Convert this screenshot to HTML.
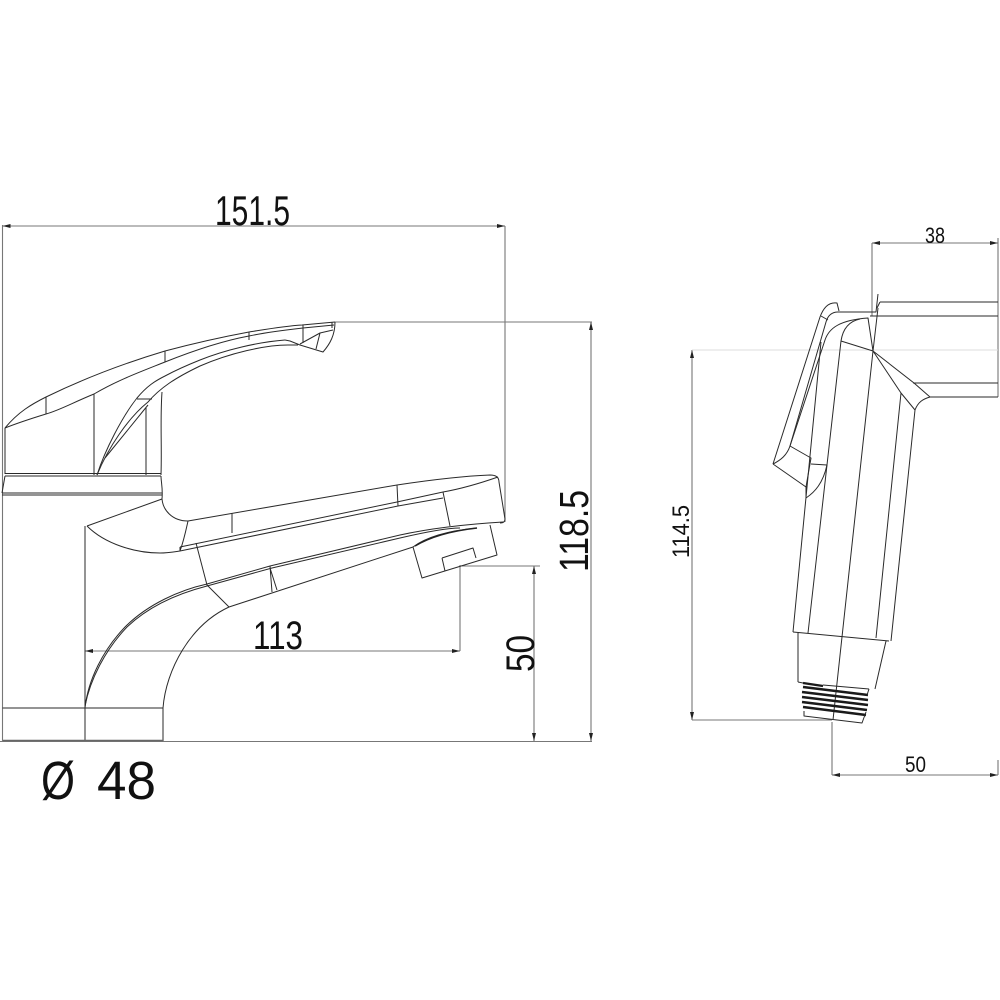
<!DOCTYPE html>
<html><head><meta charset="utf-8"><style>
html,body{margin:0;padding:0;background:#fff;width:1000px;height:1000px;overflow:hidden}
svg{display:block;filter:blur(0.3px)}
text{font-family:"Liberation Sans",sans-serif;fill:#111}
.o{fill:none;stroke:#2a2a2a;stroke-width:1;stroke-linejoin:round}
.d{fill:none;stroke:#777;stroke-width:1.1}
.t{fill:none;stroke:#222;stroke-width:1.6}
</style></head><body>
<svg width="1000" height="1000" viewBox="0 0 1000 1000" xmlns="http://www.w3.org/2000/svg">
<rect width="1000" height="1000" fill="#fff"/>
<!-- dimension lines left -->
<path class="d" d="M2.5 225V741M2 226H505M505 226V522M335 322H592M591 322V741M0 741.5H592M85 651H460M460 565V651M462 566H540M534 566V741"/>
<g fill="#222">
<path d="M2.5 226l8-2v4zM505 226l-8-2v4zM591 322l-2 8h4zM591 741l-2-8h4zM85 651l8-2v4zM460 651l-8-2v4zM534 566l-2 8h4zM534 741l-2-8h4z"/>
</g>
<!-- handle -->
<path class="o" d="M5 428C18 412 32 404 46 397C85 378 125 363 165 351C195 343 222 337 249 332C268 329 285 326 302 325L335 322"/>
<path class="o" d="M5 428C20 422 33 418 46 414C60 410 72 403 94 394C118 380 140 372 165 362C195 350 222 341 249 336C268 332 285 330 303 328L334 325"/>
<path class="o" d="M97 475C105 450 122 417 137 398C147 386 155 381 165 376C178 369 190 364 200 360C225 350 258 342 285 340"/>
<path class="o" d="M97 475C108 448 128 418 148 402C160 388 175 378 200 366C230 353 265 345 288 345L298 345"/>
<path class="o" d="M285 340L290 341L300 345L323 352C330 344 335 335 335 322"/>
<path class="o" d="M300 344L320 333L333 330M320 333L316 349M105 458L148 405M137 399H152"/>
<path class="o" d="M46 397V414M94 394V475M146 408V475M162 392C160 420 162 445 161 475M165 351V362M249 332V340M303 325V343M332 322V328"/>
<path class="o" d="M5 428V474M5 473.500H161M5 476H161M5 476L2 493M2 493H162M2 495H162M161 476C161 482 163 488 162 499"/>
<!-- spout -->
<path class="o" d="M87 526L162 499C163 510 172 521 188 521L397 485C430 480 465 476 490 475C497 475 499 478 499 482L505 519C505 522 503 523 500 523"/>
<path class="o" d="M87 526C105 544 135 553 160 553C167 553 173 552 180 551L398 506L443 498"/>
<path class="o" d="M180 547L397 502L443 492C460 489 478 484 498 477"/>
<path class="o" d="M188 521C186 530 184 540 180 551M180 547V551M232 513V533M397 485L398 506M443 492L450 526"/>
<path class="o" d="M196 543L207 585L229 607M270 566L272 592M270 568L277 590"/>
<path class="o" d="M85 708C88 680 103 650 125 627C148 604 180 590 207 584L270 566L400 535C432 528 470 524 503 522"/>
<path class="o" d="M85 706C90 680 105 650 127 627C150 605 180 593 207 586L272 568L400 538C430 531 450 528 460 528"/>
<path class="o" d="M163 708C166 670 190 625 229 607L413 547C425 538 445 531 477 528"/>
<path class="t" d="M415 546C430 537 450 531 477 528"/>
<path class="o" d="M413 547L422 578L497 555L490 525M442 558L473 548L476 558M442 558L445 571"/>
<path class="o" d="M85 526V741M163 708V741M2.500 708H163"/>
<path d="M3 740.500H163" fill="none" stroke="#666" stroke-width="1.6"/>
<!-- shower dimension -->
<path class="d" d="M872 243V316M872 243H998M998 238V397M692 350V720M692 720H832M832 722V775M832 775H998M998 760V775"/>
<path d="M692 350H998" fill="none" stroke="#ddd" stroke-width="1"/>
<g fill="#222">
<path d="M872 243l8-2v4zM998 243l-8-2v4zM692 350l-2 8h4zM692 720l-2-8h4zM832 775l8-2v4zM998 775l-8-2v4z"/>
</g>
<!-- shower hose fitting -->
<path class="o" d="M880 302H998M870 316H998M913 383H998M930 397H998M880 302L877 308"/>
<!-- shower head -->
<path class="o" d="M773 464L820 317C824 306 830 302 837 303L839 311"/>
<path class="o" d="M773 464C781 460 787 455 790 446L826 322C828 315 832 312 838 312H876L878 294"/>
<path class="o" d="M821 316L828 320M790 446L825 340C829 328 840 320 868 318L873 351L878 308"/>
<path class="o" d="M773 464L806 487M790 446L811 458L806 487L806 498C815 492 823 483 827 465L811 464"/>
<path class="o" d="M793 632L821 342M808 633L841 341C843 328 850 321 860 319M841 341L873 351L833 720M873 351L901 393L876 638M873 351L914 383L930 397M901 393L915 410L891 641M915 410C918 402 923 399 930 397"/>
<path class="o" d="M793 632L889 641M798 633V682M886 641L875 689M798 682L803 683M823 685L869 689"/>
<!-- thread -->
<path d="M803 683L823 686M803 687L868 695M802 692L868 700M802 697L868 705M802 702L867 710M803 707L866 715" fill="none" stroke="#1a1a1a" stroke-width="2.4"/>
<path class="o" d="M804 711V716L862 723L866 712M869 689L867 695"/>
<!-- labels -->
<text x="215" y="225" font-size="42" textLength="75" lengthAdjust="spacingAndGlyphs">151.5</text>
<text x="253" y="649" font-size="40" textLength="50" lengthAdjust="spacingAndGlyphs">113</text>
<text transform="translate(588 572) rotate(-90)" font-size="41" textLength="82" lengthAdjust="spacingAndGlyphs">118.5</text>
<text transform="translate(534 672) rotate(-90)" font-size="40" textLength="37" lengthAdjust="spacingAndGlyphs">50</text>
<text x="41" y="799" font-size="54" textLength="34" lengthAdjust="spacingAndGlyphs">Ø</text>
<text x="97" y="799" font-size="54" textLength="59" lengthAdjust="spacingAndGlyphs">48</text>
<text x="925" y="243" font-size="22" textLength="20" lengthAdjust="spacingAndGlyphs">38</text>
<text x="905" y="772" font-size="22" textLength="21" lengthAdjust="spacingAndGlyphs">50</text>
<text transform="translate(689 558) rotate(-90)" font-size="24" textLength="53" lengthAdjust="spacingAndGlyphs">114.5</text>
</svg>
</body></html>
